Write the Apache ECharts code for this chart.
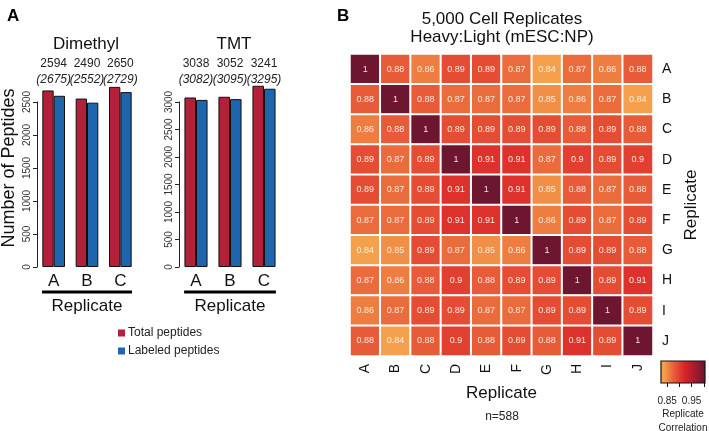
<!DOCTYPE html>
<html>
<head>
<meta charset="utf-8">
<script src="https://cdn.jsdelivr.net/npm/echarts@6/dist/echarts.min.js"></script>
<style>
  html, body { margin: 0; padding: 0; background: #fff; }
  #chart { width: 709px; height: 431px; }
</style>
</head>
<body>
<div id="chart"></div>
<script>
// panel A data
var replicates = ['A', 'B', 'C']
var dimethylTotal = [2675, 2552, 2729]
var dimethylLabeled = [2594, 2490, 2650]
var tmtTotal = [3082, 3095, 3295]
var tmtLabeled = [3038, 3052, 3241]

// panel B data (rows A..J, columns A..J)
var hmLabels = ['A', 'B', 'C', 'D', 'E', 'F', 'G', 'H', 'I', 'J']
var corr = [
  [1, 0.88, 0.86, 0.89, 0.89, 0.87, 0.84, 0.87, 0.86, 0.88],
  [0.88, 1, 0.88, 0.87, 0.87, 0.87, 0.85, 0.86, 0.87, 0.84],
  [0.86, 0.88, 1, 0.89, 0.89, 0.89, 0.89, 0.88, 0.89, 0.88],
  [0.89, 0.87, 0.89, 1, 0.91, 0.91, 0.87, 0.9, 0.89, 0.9],
  [0.89, 0.87, 0.89, 0.91, 1, 0.91, 0.85, 0.88, 0.87, 0.88],
  [0.87, 0.87, 0.89, 0.91, 0.91, 1, 0.86, 0.89, 0.87, 0.89],
  [0.84, 0.85, 0.89, 0.87, 0.85, 0.86, 1, 0.89, 0.89, 0.88],
  [0.87, 0.86, 0.88, 0.9, 0.88, 0.89, 0.89, 1, 0.89, 0.91],
  [0.86, 0.87, 0.89, 0.89, 0.87, 0.87, 0.89, 0.89, 1, 0.89],
  [0.88, 0.84, 0.88, 0.9, 0.88, 0.89, 0.88, 0.91, 0.89, 1]
]
var colorMin = 0.84
var colorMax = 1
var colorStops = ['#F4A04C', '#E75B38', '#DA2528', '#A81C2C', '#6E1530']
var cbMin = 0.825
var cbMax = 1.005
var cbTicks = [0.85, 0.9, 0.95, 1.0]
var cbTickLabels = [0.85, 0.95]

var RED = '#B2203A'
var BLUE = '#1F65AE'
var FONT = 'Liberation Sans, Arial, Helvetica, sans-serif'

var hmData = []
corr.forEach(function (row, r) {
  row.forEach(function (v, c) {
    hmData.push([c, r, v])
  })
})

var gradStops = colorStops.map(function (col, i) {
  var v = colorMin + (colorMax - colorMin) * i / (colorStops.length - 1)
  return { offset: (v - cbMin) / (cbMax - cbMin), color: col }
})
gradStops.unshift({ offset: 0, color: colorStops[0] })
gradStops.push({ offset: 1, color: colorStops[colorStops.length - 1] })

function topLabels (labeled, total) {
  return function (val, i) {
    return '{n|' + labeled[i] + '}\n{i|(' + total[i] + ')}'
  }
}

function underline (params, api) {
  var p0 = api.coord([0, 0])
  var p2 = api.coord([2, 0])
  var band = api.size([1, 0])[0]
  var y = p0[1] + 25
  return {
    type: 'line',
    shape: { x1: p0[0] - band * 0.35, y1: y, x2: p2[0] + band * 0.35, y2: y },
    style: { stroke: '#000', lineWidth: 3 }
  }
}

function barYAxis (grid, max) {
  return {
    type: 'value',
    gridIndex: grid,
    min: 0,
    max: max,
    interval: 500,
    splitLine: { show: false },
    axisLine: { show: true, lineStyle: { color: '#222' } },
    axisTick: { show: true, length: 4, lineStyle: { color: '#222' } },
    axisLabel: { rotate: 90, fontSize: 10, color: '#333', margin: 5, formatter: function (v) { return String(v) } }
  }
}

function catAxis (grid) {
  return {
    type: 'category',
    gridIndex: grid,
    data: replicates,
    axisLine: { show: false },
    axisTick: { show: false },
    axisLabel: { fontSize: 17, color: '#111', margin: 6, interval: 0 },
    name: 'Replicate',
    nameLocation: 'middle',
    nameGap: 31,
    nameTextStyle: { fontSize: 17, color: '#111' }
  }
}

function topAxis (grid, labeled, total) {
  return {
    type: 'category',
    gridIndex: grid,
    position: 'top',
    data: replicates,
    axisLine: { show: false },
    axisTick: { show: false },
    axisLabel: {
      margin: 14,
      interval: 0,
      hideOverlap: false,
      formatter: topLabels(labeled, total),
      rich: {
        n: { fontSize: 12, color: '#222', lineHeight: 16 },
        i: { fontSize: 12, color: '#222', fontStyle: 'italic', lineHeight: 16 }
      }
    }
  }
}

function barSeries (name, color, xi, yi, data) {
  return {
    name: name,
    type: 'bar',
    xAxisIndex: xi,
    yAxisIndex: yi,
    data: data,
    barWidth: '34%',
    barGap: '0%',
    clip: false,
    itemStyle: { color: color, borderColor: '#111', borderWidth: 1 },
    animation: false
  }
}

var chart = echarts.init(document.getElementById('chart'))
chart.setOption({
  animation: false,
  textStyle: { fontFamily: FONT },
  title: [
    { text: 'A', left: 2, top: 3, textStyle: { fontSize: 17, fontWeight: 'bold', color: '#000' } },
    { text: 'B', left: 332, top: 3, textStyle: { fontSize: 17, fontWeight: 'bold', color: '#000' } },
    { text: 'Dimethyl', left: 81, top: 31, textAlign: 'center', textStyle: { fontSize: 17, fontWeight: 'normal', color: '#111' } },
    { text: 'TMT', left: 229, top: 31, textAlign: 'center', textStyle: { fontSize: 17, fontWeight: 'normal', color: '#111' } },
    { text: '5,000 Cell Replicates', left: 497, top: 6, textAlign: 'center', textStyle: { fontSize: 17, fontWeight: 'normal', color: '#111' } },
    { text: 'Heavy:Light (mESC:NP)', left: 497, top: 24, textAlign: 'center', textStyle: { fontSize: 17, fontWeight: 'normal', color: '#111' } },
    { text: 'n=588', left: 497, top: 406, textAlign: 'center', textStyle: { fontSize: 12, fontWeight: 'normal', color: '#222' } }
  ],
  graphic: [{
    type: 'text',
    x: 9,
    y: 168,
    rotation: Math.PI / 2,
    style: {
      text: 'Number of Peptides',
      font: '18px ' + FONT,
      fill: '#111',
      textAlign: 'center',
      textVerticalAlign: 'middle',
      align: 'center',
      verticalAlign: 'middle'
    }
  }],
  legend: {
    orient: 'vertical',
    left: 113,
    top: 322,
    icon: 'rect',
    itemWidth: 7,
    itemHeight: 7,
    itemGap: 6,
    data: ['Total peptides', 'Labeled peptides'],
    itemStyle: { borderWidth: 0 },
    textStyle: { fontSize: 12, color: '#222', padding: [0, 0, 0, -2] }
  },
  grid: [
    { left: 37, top: 102, width: 100, height: 165, outerBoundsMode: 'none' },
    { left: 179, top: 102, width: 102, height: 165, outerBoundsMode: 'none' },
    { left: 350, top: 54, width: 303, height: 302, outerBoundsMode: 'none' },
    { left: 661, top: 361, width: 44, height: 22, outerBoundsMode: 'none' }
  ],
  xAxis: [
    catAxis(0),
    topAxis(0, dimethylLabeled, dimethylTotal),
    catAxis(1),
    topAxis(1, tmtLabeled, tmtTotal),
    {
      type: 'category',
      gridIndex: 2,
      data: hmLabels,
      axisLine: { show: false },
      axisTick: { show: false },
      axisLabel: { rotate: 90, fontSize: 14, color: '#111', margin: 8, interval: 0 },
      name: 'Replicate',
      nameLocation: 'middle',
      nameGap: 29,
      nameTextStyle: { fontSize: 17, color: '#111' }
    },
    {
      type: 'value',
      gridIndex: 3,
      min: cbMin,
      max: cbMax,
      axisLine: { show: false },
      splitLine: { show: false },
      axisTick: { show: true, length: 4, customValues: cbTicks, lineStyle: { color: '#111' } },
      axisLabel: { fontSize: 10, color: '#222', margin: 13, customValues: cbTickLabels, showMinLabel: true, showMaxLabel: true },
      name: 'Replicate\nCorrelation',
      nameLocation: 'middle',
      nameGap: 24,
      nameTextStyle: { fontSize: 10, color: '#222', lineHeight: 14 }
    }
  ],
  yAxis: [
    barYAxis(0, 2500),
    barYAxis(1, 3000),
    {
      type: 'category',
      gridIndex: 2,
      data: hmLabels,
      inverse: true,
      position: 'right',
      axisLine: { show: false },
      axisTick: { show: false },
      axisLabel: { fontSize: 14, color: '#111', margin: 9, interval: 0 },
      name: 'Replicate',
      nameLocation: 'middle',
      nameRotate: 90,
      nameGap: 30,
      nameTextStyle: { fontSize: 17, color: '#111' }
    },
    { type: 'value', gridIndex: 3, min: 0, max: 1, show: false }
  ],
  visualMap: {
    show: false,
    type: 'continuous',
    seriesIndex: 6,
    min: colorMin,
    max: colorMax,
    inRange: { color: colorStops }
  },
  series: [
    barSeries('Total peptides', RED, 0, 0, dimethylTotal),
    barSeries('Labeled peptides', BLUE, 0, 0, dimethylLabeled),
    barSeries('Total peptides', RED, 2, 1, tmtTotal),
    barSeries('Labeled peptides', BLUE, 2, 1, tmtLabeled),
    { type: 'custom', xAxisIndex: 0, yAxisIndex: 0, data: [[0, 0]], renderItem: underline, clip: false, silent: true },
    { type: 'custom', xAxisIndex: 2, yAxisIndex: 1, data: [[0, 0]], renderItem: underline, clip: false, silent: true },
    {
      type: 'heatmap',
      xAxisIndex: 4,
      yAxisIndex: 2,
      data: hmData,
      itemStyle: { borderColor: '#fff', borderWidth: 2 },
      label: {
        show: true,
        fontSize: 9,
        color: 'rgba(255,245,235,0.92)',
        formatter: function (p) { return String(p.value[2]) }
      }
    },
    {
      type: 'custom',
      xAxisIndex: 5,
      yAxisIndex: 3,
      data: [[cbMin, 0]],
      silent: true,
      renderItem: function (params, api) {
        var p0 = api.coord([cbMin, 0])
        var p1 = api.coord([cbMax, 1])
        return {
          type: 'rect',
          shape: { x: p0[0], y: p1[1], width: p1[0] - p0[0], height: p0[1] - p1[1] },
          style: {
            fill: new echarts.graphic.LinearGradient(0, 0, 1, 0, gradStops),
            stroke: '#111',
            lineWidth: 1.2
          }
        }
      }
    }
  ]
})
</script>
</body>
</html>
